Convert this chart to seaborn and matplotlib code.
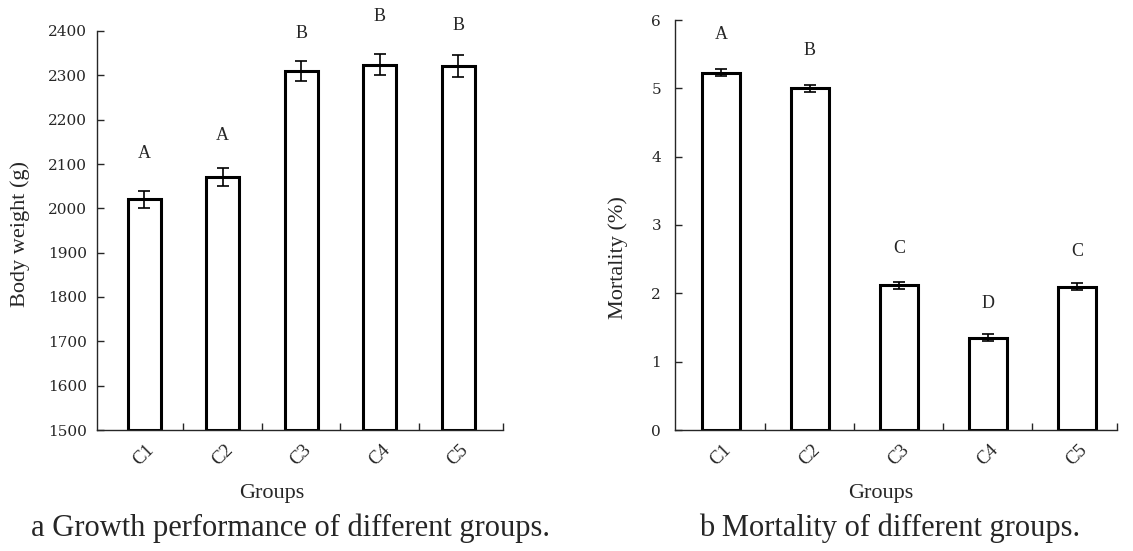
import matplotlib
matplotlib.use("Agg")
import matplotlib.pyplot as plt
import seaborn as sns
import pandas as pd
import numpy as np

groups = ["C1", "C2", "C3", "C4", "C5"]
body_weight = [2020, 2071, 2310, 2324, 2321]
body_weight_err = [20, 20, 23, 23, 24]
body_letters = ["A", "A", "B", "B", "B"]
body_letter_y = [2104, 2145, 2375, 2414, 2393]

mortality = [5.23, 5.00, 2.12, 1.35, 2.10]
mortality_err = [0.05, 0.05, 0.05, 0.05, 0.05]
mort_letters = ["A", "B", "C", "D", "C"]
mort_letter_y = [5.66, 5.43, 2.53, 1.73, 2.49]

sns.set_style("ticks")
plt.rcParams["font.family"] = ["Liberation Serif", "DejaVu Serif"]

fig = plt.figure(figsize=(11.33, 5.51), dpi=100)
ax1 = fig.add_axes([97 / 1133, 1 - 430 / 551, 406 / 1133, 399 / 551])
ax2 = fig.add_axes([675 / 1133, 1 - 430 / 551, 442 / 1133, 410 / 551])

def draw(ax, vals, errs, letters, ly, ylim, yticks, ylabel, xlim, ypad,
         ylab_xy, xlab_xy):
    df = pd.DataFrame({"Groups": groups, "v": vals})
    sns.barplot(data=df, x="Groups", y="v", ax=ax, color="white",
                edgecolor="black", linewidth=2.2, width=0.42, errorbar=None)
    ax.errorbar(np.arange(len(groups)), vals, yerr=errs, fmt="none",
                ecolor="black", elinewidth=1.2, capsize=4, capthick=1.2)
    for i, (t, y) in enumerate(zip(letters, ly)):
        ax.text(i, y, t, ha="center", va="bottom", fontsize=13)
    ax.set_xlim(*xlim)
    ax.set_ylim(*ylim)
    ax.set_yticks(yticks)
    ax.set_yticklabels([str(t) for t in yticks], fontsize=11,
                       family="DejaVu Serif")
    ax.set_xticks(np.arange(len(groups)))
    ax.set_xticklabels(groups, rotation=45, fontsize=13.5, ha="center")
    ax.tick_params(axis="x", which="major", length=0, pad=8)
    ax.set_xticks(list(np.arange(0.5, 4.0, 1.0)) + [xlim[1]], minor=True)
    ax.tick_params(axis="x", which="minor", direction="in", length=5, width=1)
    ax.tick_params(axis="y", direction="in", length=5, width=1, pad=ypad)
    ax.set_xlabel("Groups", fontsize=16)
    ax.set_ylabel(ylabel, fontsize=16)
    ax.yaxis.set_label_coords(*ylab_xy)
    ax.xaxis.set_label_coords(*xlab_xy)
    for s in ["top", "right"]:
        ax.spines[s].set_visible(False)
    for s in ["left", "bottom"]:
        ax.spines[s].set_linewidth(1.0)

draw(ax1, body_weight, body_weight_err, body_letters, body_letter_y,
     (1500, 2400), list(range(1500, 2401, 100)), "Body weight (g)",
     (-0.6, 4.57), 7, (-0.165, 0.49), (0.431, -0.135))
draw(ax2, mortality, mortality_err, mort_letters, mort_letter_y,
     (0, 6), [0, 1, 2, 3, 4, 5, 6], "Mortality (%)",
     (-0.515, 4.45), 10, (-0.106, 0.42), (0.466, -0.132))
for b in ax1.patches:
    b.set_y(1500)
    b.set_height(b.get_height() - 1500)

fig.text(0.256, 0.042, "a Growth performance of different groups.", ha="center",
         va="center", fontsize=22)
fig.text(0.785, 0.042, "b Mortality of different groups.", ha="center",
         va="center", fontsize=22)

fig.savefig("out.png", dpi=100)
